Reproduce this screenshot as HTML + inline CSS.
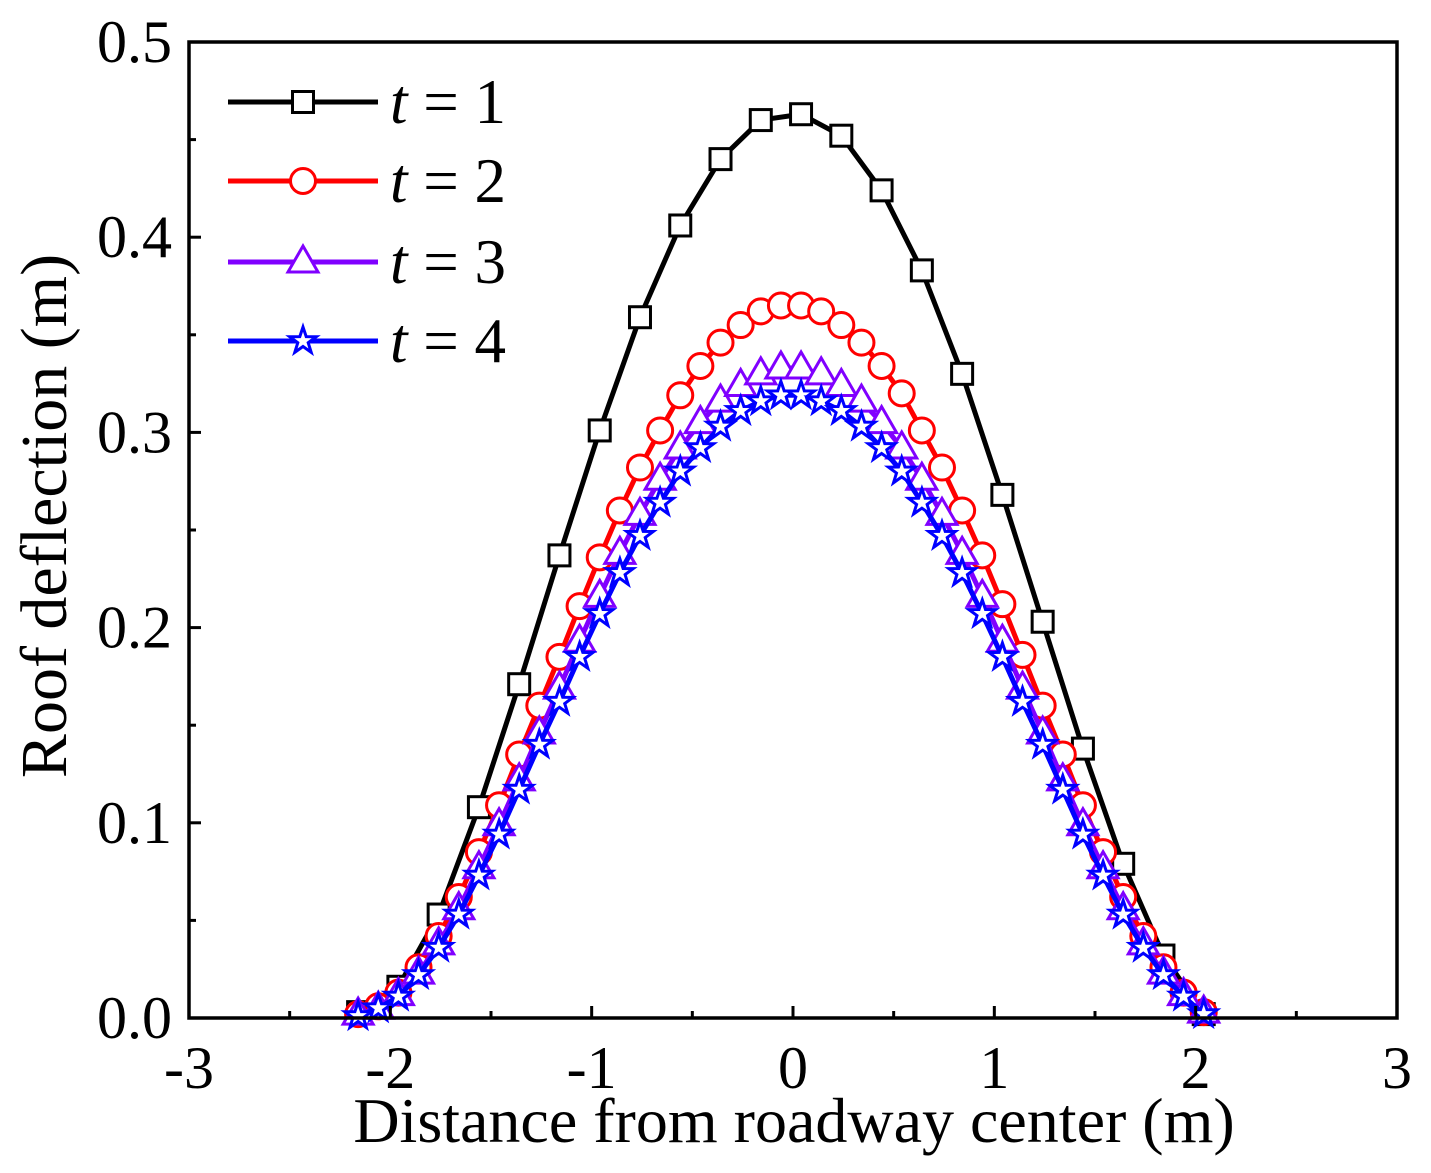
<!DOCTYPE html>
<html><head><meta charset="utf-8"><style>
html,body{margin:0;padding:0;background:#fff;}
svg text{font-family:"Liberation Serif",serif;}
</style></head><body>
<svg id="chart" width="1431" height="1168" viewBox="0 0 1431 1168" xmlns="http://www.w3.org/2000/svg">
<g id="marks"></g>
<g id="axes"></g>
</svg>
<script>
const xTicks=[-3,-2,-1,0,1,2,3];
const yTicks=[0.0,0.1,0.2,0.3,0.4,0.5];
const x1=[-2.16,-1.96,-1.76,-1.56,-1.36,-1.16,-0.96,-0.76,-0.56,-0.36,-0.16,0.04,0.24,0.44,0.64,0.84,1.04,1.24,1.44,1.64,1.84,2.04];
const t1=[0.003,0.016,0.053,0.108,0.171,0.237,0.301,0.359,0.406,0.440,0.460,0.463,0.452,0.424,0.383,0.330,0.268,0.203,0.138,0.079,0.032,0.002];
const x2=[-2.16,-2.06,-1.96,-1.86,-1.76,-1.66,-1.56,-1.46,-1.36,-1.26,-1.16,-1.06,-0.96,-0.86,-0.76,-0.66,-0.56,-0.46,-0.36,-0.26,-0.16,-0.06,0.04,0.14,0.24,0.34,0.44,0.54,0.64,0.74,0.84,0.94,1.04,1.14,1.24,1.34,1.44,1.54,1.64,1.74,1.84,1.94,2.04];
const t2=[0.002,0.006,0.013,0.026,0.042,0.062,0.085,0.109,0.135,0.160,0.185,0.211,0.236,0.260,0.282,0.301,0.319,0.334,0.346,0.355,0.362,0.365,0.365,0.362,0.355,0.346,0.334,0.320,0.301,0.282,0.260,0.237,0.212,0.186,0.160,0.135,0.109,0.085,0.062,0.042,0.026,0.013,0.003];
const t3=[0.002,0.005,0.012,0.023,0.038,0.056,0.077,0.099,0.122,0.146,0.169,0.193,0.216,0.238,0.258,0.276,0.292,0.305,0.316,0.324,0.330,0.333,0.333,0.330,0.324,0.316,0.305,0.292,0.276,0.258,0.238,0.216,0.193,0.169,0.146,0.122,0.099,0.077,0.056,0.038,0.023,0.012,0.003];
const t4=[0.001,0.005,0.011,0.022,0.036,0.053,0.073,0.094,0.117,0.140,0.162,0.185,0.207,0.228,0.247,0.264,0.280,0.292,0.303,0.311,0.316,0.319,0.319,0.316,0.311,0.303,0.292,0.280,0.264,0.247,0.228,0.207,0.185,0.162,0.140,0.117,0.094,0.073,0.053,0.036,0.022,0.011,0.002];
const seriesLabels=["1","2","3","4"];

const L=189,R=1397,T=42,B=1018;
const X=v=>L+(v+3)/6*(R-L);
const Y=v=>B-v/0.5*(B-T);
const NS="http://www.w3.org/2000/svg";
function mk(tag,attrs,parent){const e=document.createElementNS(NS,tag);for(const k in attrs)e.setAttribute(k,attrs[k]);parent.appendChild(e);return e;}
const marks=document.getElementById('marks'),axes=document.getElementById('axes');

function marker(type,cx,cy,color,g){
  let e;
  if(type==='sq') e=mk('rect',{x:cx-10.5,y:cy-10.5,width:21,height:21,fill:'#fff',stroke:color,'stroke-width':3},g);
  else if(type==='ci') e=mk('circle',{cx:cx,cy:cy,r:12.5,fill:'#fff',stroke:color,'stroke-width':3},g);
  else if(type==='tr') e=mk('polygon',{points:`${cx},${cy-16} ${cx+15},${cy+10} ${cx-15},${cy+10}`,fill:'#fff',stroke:color,'stroke-width':3},g);
  else{let p=[];for(let i=0;i<10;i++){const r=i%2?5.5:14,a=-Math.PI/2+i*Math.PI/5;p.push((cx+r*Math.cos(a)).toFixed(1)+','+(cy+r*Math.sin(a)).toFixed(1));}
    e=mk('polygon',{points:p.join(' '),fill:'#fff',stroke:color,'stroke-width':3},g);}
  return e;
}
function series(xs,ys,color,type,name){
  const g=mk('g',{},marks);
  
  
  const line=mk('polyline',{points:xs.map((x,i)=>X(x)+','+Y(ys[i])).join(' '),fill:'none',stroke:color,'stroke-width':5,'stroke-linejoin':'round'},g);
  
  
  xs.forEach((x,i)=>{const m=marker(type,X(x),Y(ys[i]),color,g);
    
    });
}
series(x1,t1,'#000','sq','series-t1');
series(x2,t2,'#ff0000','ci','series-t2');
series(x2,t3,'#8000ff','tr','series-t3');
series(x2,t4,'#0000ff','st','series-t4');

const fr=mk('rect',{x:L,y:T,width:R-L,height:B-T,fill:'none',stroke:'#000','stroke-width':3.5},axes);


for(let v=-3;v<=3.001;v+=0.5){const maj=Math.abs(v-Math.round(v))<1e-6;mk('line',{x1:X(v),x2:X(v),y1:B,y2:B-(maj?12:7),stroke:'#000','stroke-width':3},axes);}
for(let v=0;v<=0.5001;v+=0.05){const maj=Math.abs(v*10-Math.round(v*10))<1e-6;mk('line',{x1:L,x2:L+(maj?12:7),y1:Y(v),y2:Y(v),stroke:'#000','stroke-width':3},axes);}
xTicks.forEach(v=>{const t=mk('text',{x:X(v),y:1088,'font-size':60,'text-anchor':'middle'},axes);t.textContent=String(v);
  
  });
yTicks.forEach(v=>{const t=mk('text',{x:172,y:Y(v)+20,'font-size':60,'text-anchor':'end'},axes);t.textContent=v.toFixed(1);
  
  });
const xt=mk('text',{x:794,y:1142,'font-size':64,'text-anchor':'middle'},axes);xt.textContent='Distance from roadway center (m)';


const yt=mk('text',{x:0,y:0,'font-size':66,'text-anchor':'middle',transform:'translate(66,516) rotate(-90)'},axes);yt.textContent='Roof deflection (m)';



const cols=['#000','#ff0000','#8000ff','#0000ff'],types=['sq','ci','tr','st'],ly=[102,181,262,341];
seriesLabels.forEach((s,i)=>{const g=mk('g',{},axes);
  
  
  mk('line',{x1:228,x2:378,y1:ly[i],y2:ly[i],stroke:cols[i],'stroke-width':5},g);
  marker(types[i],303,ly[i],cols[i],g);
  const t=mk('text',{x:390,y:ly[i]+21,'font-size':63},g);
  t.innerHTML='<tspan font-style="italic">t</tspan> = '+s;});
</script>
</body></html>
